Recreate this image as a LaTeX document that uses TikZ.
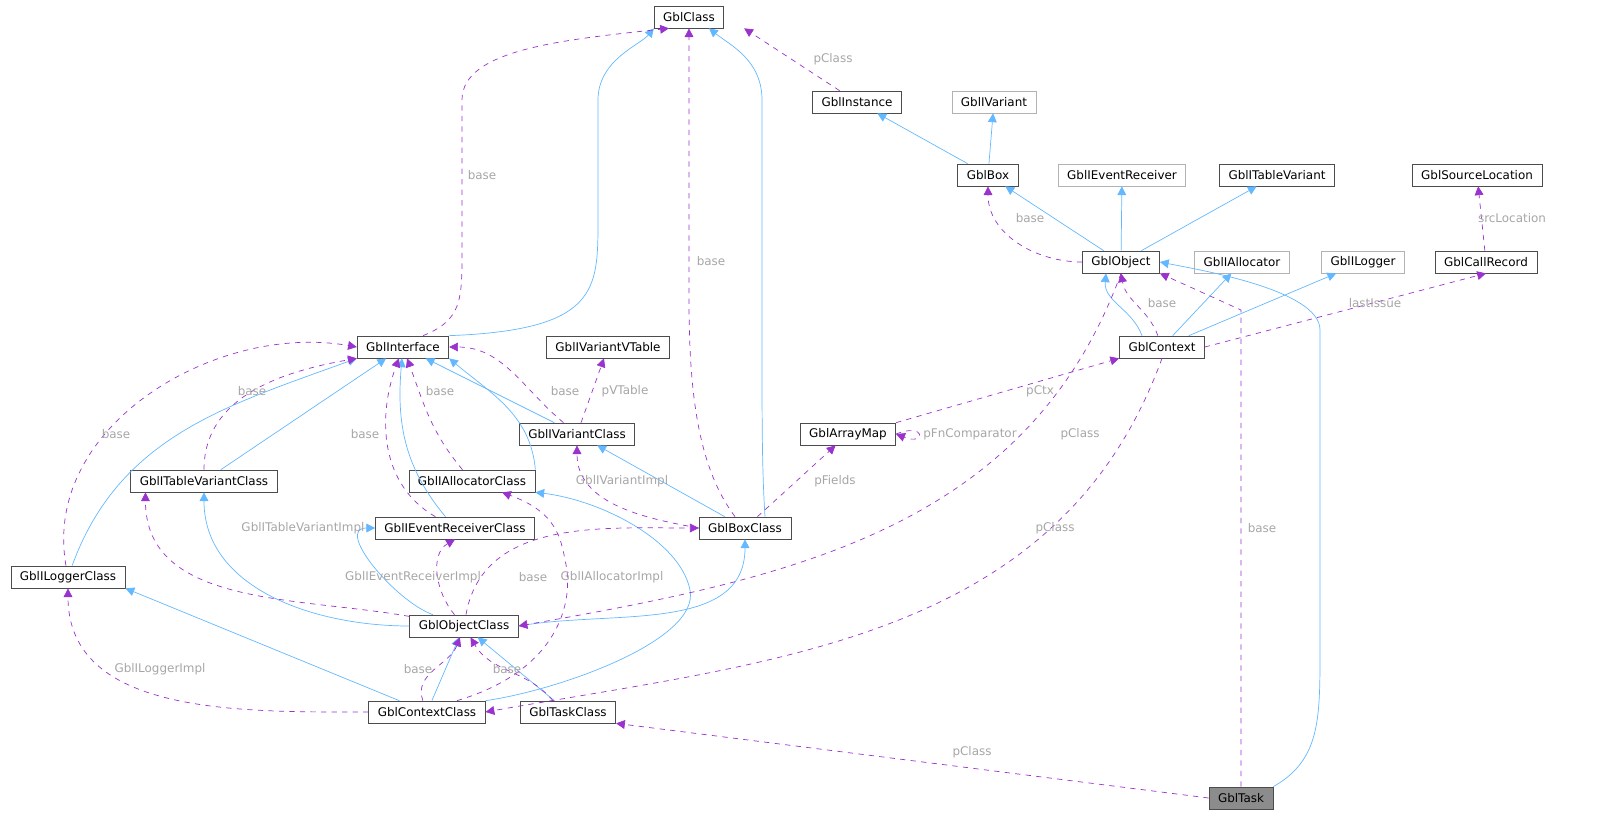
\documentclass[tikz,border=0pt]{standalone}
\usepackage{fontspec}
\setmainfont{DejaVu Sans}
\usetikzlibrary{arrows.meta}
\definecolor{inhblue}{HTML}{63B8FF}
\definecolor{deppurple}{HTML}{9A32CD}
\tikzset{
  cls/.style={draw=black!70, fill=white, font=\fontsize{6.8}{8}\selectfont,
              minimum height=0.44cm, inner xsep=0.18cm, inner ysep=0pt},
  ext/.style={cls, draw=black!30},
  inh/.style={draw=inhblue, -{Triangle[width=5pt,length=5pt]}},
  dep/.style={draw=deppurple, dashed, -{Triangle[width=5pt,length=5pt]}},
  lbl/.style={font=\fontsize{6.8}{8}\selectfont, text=black!35, inner sep=1pt}
}
\begin{document}
\begin{tikzpicture}[x=0.02cm,y=-0.02cm]
  \useasboundingbox (0,0) rectangle (1609,836);
  % classes
  \node[cls] (GblClass) at (689,17) {GblClass};
  \node[cls] (GblInstance) at (857,102) {GblInstance};
  \node[ext] (GblIVariant) at (994,102) {GblIVariant};
  \node[cls] (GblBox) at (988,175) {GblBox};
  \node[ext] (GblIEventReceiver) at (1122,175) {GblIEventReceiver};
  \node[cls] (GblITableVariant) at (1277,175) {GblITableVariant};
  \node[cls] (GblSourceLocation) at (1477,175) {GblSourceLocation};
  \node[cls] (GblObject) at (1121,262) {GblObject};
  \node[ext] (GblIAllocator) at (1242,262) {GblIAllocator};
  \node[ext] (GblILogger) at (1363,262) {GblILogger};
  \node[cls] (GblCallRecord) at (1486,262) {GblCallRecord};
  \node[cls] (GblInterface) at (403,347) {GblInterface};
  \node[cls] (GblIVariantVTable) at (608,347) {GblIVariantVTable};
  \node[cls] (GblContext) at (1162,347) {GblContext};
  \node[cls] (GblIVariantClass) at (577,434) {GblIVariantClass};
  \node[cls] (GblArrayMap) at (848,434) {GblArrayMap};
  \node[cls] (GblITableVariantClass) at (204,481) {GblITableVariantClass};
  \node[cls] (GblIAllocatorClass) at (472,481) {GblIAllocatorClass};
  \node[cls] (GblIEventReceiverClass) at (455,528) {GblIEventReceiverClass};
  \node[cls] (GblBoxClass) at (745,528) {GblBoxClass};
  \node[cls] (GblILoggerClass) at (68,577) {GblILoggerClass};
  \node[cls] (GblObjectClass) at (464,626) {GblObjectClass};
  \node[cls] (GblContextClass) at (427,712) {GblContextClass};
  \node[cls] (GblTaskClass) at (568,712) {GblTaskClass};
  \node[cls, fill=black!45] (GblTask) at (1241,798) {GblTask};

  % inheritance
  \draw[inh] (GblInterface.north east) .. controls (598,330) and (598,290) .. (598,220)
    -- (598,100) .. controls (598,60) and (640,45) .. (GblClass.south west);
  \draw[inh] ([xshift=0.4cm]GblBoxClass.north) .. controls (762,470) and (762,420) .. (762,350)
    -- (762,100) .. controls (762,60) and (730,45) .. ([xshift=0.4cm]GblClass.south);
  \draw[inh] (GblBox) -- (GblInstance);
  \draw[inh] (GblBox) -- (GblIVariant);
  \draw[inh] (GblObject) -- (GblBox);
  \draw[inh] (GblObject) -- (GblIEventReceiver);
  \draw[inh] (GblObject) -- (GblITableVariant);
  \draw[inh] ([xshift=-0.4cm]GblContext.north) to[out=110,in=-95] ([xshift=-0.3cm]GblObject.south);
  \draw[inh] (GblContext) -- (GblIAllocator);
  \draw[inh] (GblContext) -- (GblILogger);
  \draw[inh] (GblTask.north east) .. controls (1320,760) and (1320,720) .. (1320,650)
    -- (1320,330) .. controls (1320,290) and (1200,270) .. (GblObject.east);
  \draw[inh] (GblITableVariantClass) -- (GblInterface);
  \draw[inh] (GblILoggerClass) to[out=70,in=-160] (GblInterface.south west);
  \draw[inh] (GblIEventReceiverClass) to[out=130,in=-95] (GblInterface);
  \draw[inh] (GblIAllocatorClass.north east) to[out=95,in=-40] (GblInterface.south east);
  \draw[inh] (GblIVariantClass) -- (GblInterface);
  \draw[inh] (GblBoxClass) -- (GblIVariantClass);
  \draw[inh] (GblObjectClass.east) to[out=10,in=-90] (GblBoxClass.south);
  \draw[inh] (GblObjectClass.west) to[out=180,in=-90] (GblITableVariantClass.south);
  \draw[inh] (GblObjectClass) to[out=160,in=180] (GblIEventReceiverClass.west);
  \draw[inh] (GblContextClass) -- (GblObjectClass);
  \draw[inh] (GblContextClass) -- (GblILoggerClass.south east);
  \draw[inh] (GblContextClass.north east) .. controls (560,690) and (700,640) .. (690,590)
    .. controls (680,540) and (600,500) .. (GblIAllocatorClass.south east);
  \draw[inh] (GblTaskClass) -- (GblObjectClass);

  % members
  \draw[dep] ([xshift=0.4cm]GblInterface.north) .. controls (462,320) and (462,300) .. (462,250)
    -- (462,100) .. controls (462,50) and (560,40) .. ([xshift=-0.4cm]GblClass.south);
  \draw[dep] ([xshift=-0.2cm]GblBoxClass.north) .. controls (700,470) and (689,400) .. (689,300)
    -- (GblClass.south);
  \draw[dep] (GblInstance) -- ([xshift=0.4cm]GblClass.south east);
  \draw[dep] (GblObject.west) to[out=180,in=-90] (GblBox.south);
  \draw[dep] (GblCallRecord) -- (GblSourceLocation);
  \draw[dep] (GblContext) to[out=110,in=-80] (GblObject.south);
  \draw[dep] (GblContext.east) -- (GblCallRecord.south);
  \draw[dep] (GblTask) -- (1241,310) -- (GblObject.south east);
  \draw[dep] (GblArrayMap.north east) -- (GblContext.south west);
  \draw[dep] (GblArrayMap.east) .. controls +(30,-12) and +(30,12) .. (GblArrayMap.east);
  \draw[dep] (GblIVariantClass) -- (GblIVariantVTable);
  \draw[dep] (GblIVariantClass) to[out=140,in=0] (GblInterface.east);
  \draw[dep] (GblIAllocatorClass) to[out=130,in=-70] (GblInterface);
  \draw[dep] (GblIEventReceiverClass) to[out=150,in=-110] (GblInterface);
  \draw[dep] (GblITableVariantClass) to[out=90,in=-170] (GblInterface.south west);
  \draw[dep] (GblILoggerClass) to[out=100,in=170] (GblInterface.west);
  \draw[dep] (GblBoxClass) -- (GblArrayMap);
  \draw[dep] (GblBoxClass.west) to[out=170,in=-90] (GblIVariantClass.south);
  \draw[dep] (GblObjectClass) to[out=80,in=180] (GblBoxClass.west);
  \draw[dep] (GblObjectClass) to[out=170,in=-90] ([xshift=0.3cm]GblITableVariantClass.south west);
  \draw[dep] (GblObjectClass) to[out=130,in=-150] (GblIEventReceiverClass.south);
  \draw[dep] (GblObject.south) to[out=-110,in=10] (GblObjectClass.east);
  \draw[dep] (GblContextClass) to[out=110,in=-110] (GblObjectClass);
  \draw[dep] (GblContextClass.west) to[out=180,in=-90] (GblILoggerClass.south);
  \draw[dep] ([xshift=0.6cm]GblContextClass.north) .. controls (560,670) and (575,600) .. (565,560)
    .. controls (560,530) and (550,510) .. ([xshift=0.6cm]GblIAllocatorClass.south);
  \draw[dep] (GblContext.south) to[out=-110,in=10] (GblContextClass.east);
  \draw[dep] ([xshift=-0.3cm]GblTaskClass.north) to[out=130,in=-60] (GblObjectClass);
  \draw[dep] (GblTask.west) -- (GblTaskClass.south east);

  % labels
  \node[lbl] (lInterfaceBase) at (482,175) {base};
  \node[lbl] (lBoxClassBase) at (711,261) {base};
  \node[lbl] (lInstancePClass) at (833,59) {pClass};
  \node[lbl] (lObjectBase) at (1030,218) {base};
  \node[lbl] (lSrcLocation) at (1512,218) {srcLocation};
  \node[lbl] (lContextBase) at (1162,303) {base};
  \node[lbl] (lLastIssue) at (1375,303) {lastIssue};
  \node[lbl] (lTaskBase) at (1262,528) {base};
  \node[lbl] (lPCtx) at (1040,391) {pCtx};
  \node[lbl] (lFnComparator) at (970,434) {pFnComparator};
  \node[lbl] (lPVTable) at (625,391) {pVTable};
  \node[lbl] (lVariantBase) at (565,391) {base};
  \node[lbl] (lAllocBase) at (440,391) {base};
  \node[lbl] (lEvtBase) at (365,434) {base};
  \node[lbl] (lTableBase) at (252,391) {base};
  \node[lbl] (lLoggerBase) at (116,434) {base};
  \node[lbl] (lPFields) at (835,481) {pFields};
  \node[lbl] (lVariantImpl) at (622,481) {GblIVariantImpl};
  \node[lbl] (lObjClassBase) at (533,577) {base};
  \node[lbl] (lTableImpl) at (303,528) {GblITableVariantImpl};
  \node[lbl] (lEvtImpl) at (413,577) {GblIEventReceiverImpl};
  \node[lbl] (lAllocImpl) at (612,577) {GblIAllocatorImpl};
  \node[lbl] (lObjPClass) at (1080,434) {pClass};
  \node[lbl] (lCtxClassBase) at (418,669) {base};
  \node[lbl] (lLoggerImpl) at (160,669) {GblILoggerImpl};
  \node[lbl] (lCtxPClass) at (1055,528) {pClass};
  \node[lbl] (lTaskClassBase) at (507,669) {base};
  \node[lbl] (lTaskPClass) at (972,752) {pClass};
\end{tikzpicture}
\end{document}
